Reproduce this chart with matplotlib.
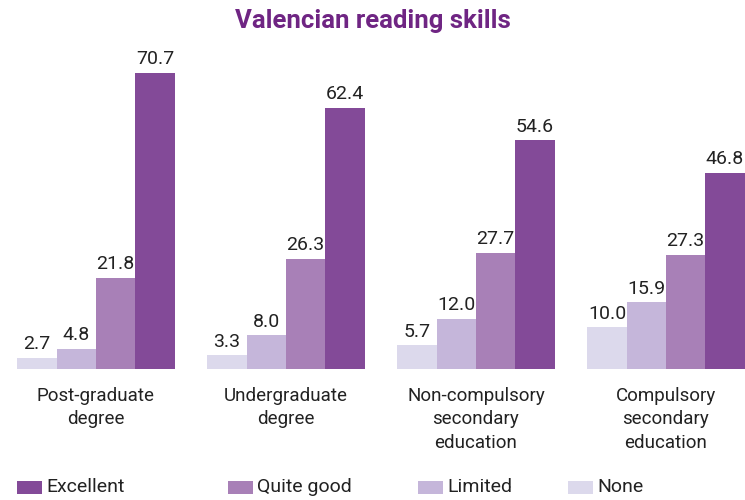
import numpy as np
import matplotlib
matplotlib.use('Agg')
import matplotlib.pyplot as plt
from matplotlib.patches import Rectangle

plt.rcParams['font.family'] = ['Roboto', 'DejaVu Sans']

categories = ["Post-graduate\ndegree", "Undergraduate\ndegree",
              "Non-compulsory\nsecondary\neducation", "Compulsory\nsecondary\neducation"]
series_names = ["None", "Limited", "Quite good", "Excellent"]
none_vals = [2.7, 3.3, 5.7, 10.0]
limited_vals = [4.8, 8.0, 12.0, 15.9]
quite_good_vals = [21.8, 26.3, 27.7, 27.3]
excellent_vals = [70.7, 62.4, 54.6, 46.8]
colors = ['#dcd9ec', '#c5b6da', '#a880b7', '#834a98']
legend_order = ["Excellent", "Quite good", "Limited", "None"]

series = [none_vals, limited_vals, quite_good_vals, excellent_vals]

fig = plt.figure(figsize=(7.45, 5.0), dpi=100)
ax = fig.add_axes([0, 0.262, 1, 0.738])

x = np.arange(len(categories))
width = 0.207
for i, (vals, col) in enumerate(zip(series, colors)):
    pos = x + (i - 1.5) * width
    ax.bar(pos, vals, width=width, color=col, linewidth=0)
    for p, v in zip(pos, vals):
        ax.text(p, v + 1.1, f"{v:.1f}", ha='center', va='bottom',
                fontsize=14, color='#222222')

ax.set_xlim(-0.505, 3.416)
ax.set_ylim(0, 88.1)
ax.axis('off')

for xi, lab in zip(x, categories):
    ax.annotate(lab, (xi, 0), xytext=(0, -13), textcoords='offset points',
                ha='center', va='top', fontsize=13.5, color='#222222',
                linespacing=1.38)

fig.text(0.5, 0.958, "Valencian reading skills", ha='center', va='center',
         fontsize=18.5, fontweight='bold', color='#6f2583')

# legend along the bottom
legend_x = [17, 228, 418, 568]
for lx, name in zip(legend_x, legend_order):
    col = colors[series_names.index(name)]
    fig.patches.append(Rectangle((lx / 745, (500 - 494) / 500), 25 / 745, 13 / 500,
                                 transform=fig.transFigure, color=col, linewidth=0))
    fig.text((lx + 29) / 745, (500 - 487) / 500, name, ha='left', va='center',
             fontsize=14, color='#222222')

fig.savefig('out.png', dpi=100)
